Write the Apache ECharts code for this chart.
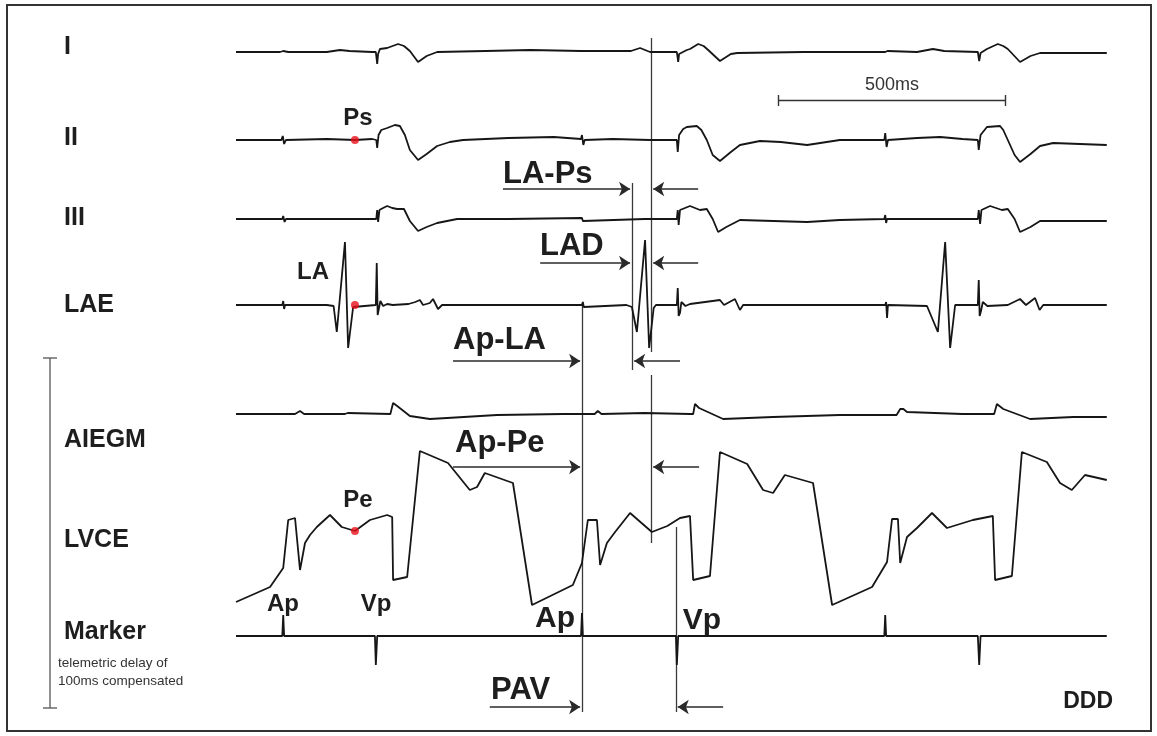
<!DOCTYPE html>
<html><head><meta charset="utf-8">
<script src="https://cdn.jsdelivr.net/npm/echarts@6/dist/echarts.min.js"></script>
<style>html,body{margin:0;padding:0;background:#fff}#c{width:1157px;height:736px}</style>
</head><body><div id="c"></div>
<script>
// ---- DATA: time in ms, amplitude in display units (positive = up) ----
const leadI = [[0,0],[97,0],[104,1],[108,-1],[115,0],[200,0],[229,2],[250,1],[300,0],[308,0],[311,-12],[313,-2],[317,3],[333,4],[357,8],[370,6],[383,1],[401,-10],[420,-4],[443,0],[550,1],[648,2],[760,1],[764,0],[870,1],[890,4],[912,0],[971,0],[974,-10],[976,-2],[993,2],[1000,3],[1018,8],[1030,6],[1040,2],[1066,-9],[1090,-2],[1104,-1],[1250,0],[1430,0],[1432,-2],[1435,1],[1500,0],[1535,3],[1560,1],[1634,0],[1637,-9],[1640,-1],[1654,3],[1678,8],[1690,6],[1700,3],[1727,-10],[1750,-4],[1771,-1],[1918,-1]];
const leadII = [[0,0],[100,0],[103,4],[106,-4],[110,0],[200,1],[262,0],[300,1],[309,0],[311,-8],[314,5],[320,10],[333,12],[350,15],[361,14],[372,5],[383,-10],[401,-20],[420,-14],[443,-6],[471,-2],[500,0],[600,2],[700,3],[760,1],[762,5],[765,-5],[768,0],[830,1],[912,0],[971,0],[973,-12],[976,5],[985,11],[993,13],[1015,14],[1025,10],[1037,0],[1050,-15],[1066,-21],[1090,-12],[1110,-5],[1154,-1],[1200,-2],[1258,-5],[1330,0],[1428,0],[1430,7],[1433,-7],[1436,0],[1500,2],[1551,3],[1600,1],[1634,0],[1636,-10],[1640,5],[1654,13],[1683,14],[1690,10],[1700,0],[1715,-15],[1727,-22],[1750,-14],[1771,-6],[1800,-3],[1918,-5]];
const leadIII = [[0,0],[102,0],[104,3],[107,-3],[110,0],[200,0],[309,0],[311,9],[313,-3],[316,9],[324,11],[333,13],[344,11],[355,10],[370,10],[383,-2],[401,-12],[420,-8],[443,-4],[487,0],[600,0],[762,1],[764,-2],[766,0],[900,0],[971,0],[973,9],[975,-6],[978,9],[1000,13],[1022,9],[1037,10],[1050,0],[1062,-13],[1080,-8],[1110,-1],[1258,-3],[1330,-1],[1428,0],[1430,4],[1432,-4],[1434,0],[1550,0],[1634,0],[1636,9],[1639,-5],[1642,9],[1661,13],[1687,9],[1700,10],[1715,0],[1727,-13],[1750,-8],[1771,-2],[1918,-2]];
const lae = [[0,0],[102,0],[104,4],[106,-4],[108,0],[200,0],[215,-1],[222,-27],[240,63],[247,-43],[258,-2],[262,0],[308,0],[310,42],[312,-10],[315,-8],[318,4],[324,-1],[333,1],[345,0],[380,1],[395,3],[405,5],[412,0],[427,2],[434,6],[445,-4],[454,0],[600,0],[762,0],[764,3],[766,-2],[768,0],[860,0],[872,-2],[883,-27],[901,65],[910,-43],[920,-3],[925,0],[971,0],[973,17],[975,-11],[978,-8],[981,3],[990,-1],[1000,1],[1066,5],[1075,0],[1099,6],[1110,-5],[1117,0],[1300,0],[1430,0],[1432,3],[1434,-13],[1436,0],[1522,-1],[1546,-27],[1562,63],[1573,-43],[1584,0],[1634,0],[1636,25],[1638,-11],[1641,-6],[1645,3],[1655,-1],[1700,0],[1727,6],[1740,0],[1760,7],[1770,-5],[1778,0],[1918,0]];
const aiegm = [[0,0],[130,0],[141,3],[150,0],[240,0],[246,1],[250,0],[340,0],[346,11],[355,8],[383,-2],[427,-5],[465,-4],[575,-1],[720,0],[790,0],[797,3],[805,0],[900,1],[1000,0],[1007,0],[1011,10],[1020,6],[1073,-5],[1183,-3],[1330,-1],[1455,-1],[1463,5],[1470,5],[1478,2],[1600,0],[1670,0],[1676,10],[1690,5],[1749,-5],[1844,-3],[1918,-3]];
const lvce = [[0,-82],[75,-67],[104,-48],[115,0],[130,2],[141,-50],[152,-23],[163,-15],[178,-7],[207,5],[233,-7],[262,-11],[295,0],[333,5],[344,3],[346,-60],[377,-57],[405,69],[467,57],[515,30],[531,33],[548,47],[610,37],[652,-85],[742,-65],[762,-43],[775,0],[795,0],[802,-45],[817,-23],[835,-12],[868,7],[916,-12],[950,-6],[978,2],[1000,4],[1007,-60],[1044,-56],[1066,68],[1126,56],[1161,30],[1183,27],[1209,45],[1271,37],[1313,-85],[1401,-67],[1434,-42],[1445,1],[1458,1],[1463,-43],[1478,-17],[1500,-8],[1533,7],[1566,-8],[1623,0],[1667,4],[1672,-60],[1709,-56],[1731,68],[1786,58],[1815,37],[1841,30],[1870,45],[1918,40]];
const marker = [[0,0],[102,0],[104,21],[106,0],[306,0],[308,-29],[311,0],[760,0],[762,23],[764,0],[969,0],[971,-29],[974,0],[1428,0],[1430,21],[1432,0],[1634,0],[1637,-29],[1640,0],[1918,0]];
const channelNames = ['I','II','III','LAE','AIEGM','LVCE','Marker'];
// event times (ms)
const eventTimes = {Ap:762, LA:872, Ps:914, Vp:969, dot:262};
const scaleBarMs = [1195, 1695];

// ---- LAYOUT ----
const PX_PER_MS = 0.454, ORIGIN_PX = 236;
const baselines = {I:52, II:140, III:219, LAE:305, AIEGM:414, LVCE:520, Marker:636};
const labelY = {I:47, II:138, III:218, LAE:305, AIEGM:440, LVCE:540, Marker:632};
const traces = {I:leadI, II:leadII, III:leadIII, LAE:lae, AIEGM:aiegm, LVCE:lvce, Marker:marker};
const FONT = '"Liberation Sans", Arial, sans-serif';
const INK = '#161616';

function toY(name, arr){ return arr.map(p => [p[0], baselines[name] - p[1]]); }
function interp(arr, t){
  for (let i=1;i<arr.length;i++){ if (arr[i][0] >= t){ const a=arr[i-1], b=arr[i]; return a[1] + (b[1]-a[1])*(t-a[0])/(b[0]-a[0]); } }
  return arr[arr.length-1][1];
}

const series = [];
channelNames.forEach(n => {
  series.push({type:'line', data: toY(n, traces[n]), showSymbol:false, symbol:'none',
    lineStyle:{color:INK, width:1.8}, silent:true, animation:false, z:3});
});

// vertical reference lines
const vlines = [
  [eventTimes.Ap, 304, 712],
  [eventTimes.LA, 183, 370],
  [eventTimes.Ps, 38, 352],
  [eventTimes.Ps, 375, 543],
  [eventTimes.Vp, 527, 712]
];
series.push({type:'lines', coordinateSystem:'cartesian2d', silent:true, animation:false, z:2,
  lineStyle:{color:'#3a3a3a', width:1.3, opacity:1},
  data: vlines.map(v => ({coords:[[v[0],v[1]],[v[0],v[2]]]}))});

// interval arrows: [fromT, toT, y]
const arrows = [
  [588, eventTimes.LA-4, 189], [1018, eventTimes.Ps+5, 189],
  [670, eventTimes.LA-4, 263], [1018, eventTimes.Ps+5, 263],
  [478, eventTimes.Ap-4, 361], [978, eventTimes.LA+5, 361],
  [478, eventTimes.Ap-4, 467], [1020, eventTimes.Ps+5, 467],
  [559, eventTimes.Ap-4, 707], [1073, eventTimes.Vp+4, 707]
];
series.push({type:'lines', coordinateSystem:'cartesian2d', silent:true, animation:false, z:4,
  symbol:['none','arrow'], symbolSize:[1,11],
  lineStyle:{color:'#2a2a2a', width:1.5, opacity:1},
  data: arrows.map(a => ({coords:[[a[0],a[2]],[a[1],a[2]]]}))});

// scale bar
series.push({type:'lines', coordinateSystem:'cartesian2d', silent:true, animation:false,
  lineStyle:{color:'#333', width:1.4, opacity:1},
  data:[{coords:[[scaleBarMs[0],100],[scaleBarMs[1],100]]},{coords:[[scaleBarMs[0],95],[scaleBarMs[0],106]]},{coords:[[scaleBarMs[1],95],[scaleBarMs[1],106]]}]});

// red dots
series.push({type:'scatter', symbolSize:8, itemStyle:{color:'#e8101a'}, z:5, silent:true, animation:false,
  data: ['II','LAE','LVCE'].map(n => [eventTimes.dot, baselines[n] - interp(traces[n], eventTimes.dot)])});

// ---- texts ----
function txt(text, x, y, size, bold, align, color){
  return {type:'text', x:x, y:y, z:10, style:{text:text, font:(bold?'bold ':'')+size+'px '+FONT,
    fill:color||'#1e1e1e', textAlign:align||'left', align:align||'left', textVerticalAlign:'middle', verticalAlign:'middle'}};
}
function tx(t){ return ORIGIN_PX + t*PX_PER_MS; }
const graphics = [
  {type:'rect', shape:{x:7,y:5,width:1144,height:726}, style:{fill:'none', stroke:'#333', lineWidth:2}, z:0},
  {type:'polyline', shape:{points:[[50,358],[50,708]]}, style:{stroke:'#555', lineWidth:1.3, fill:'none'}},
  {type:'polyline', shape:{points:[[43,358],[57,358]]}, style:{stroke:'#555', lineWidth:1.3, fill:'none'}},
  {type:'polyline', shape:{points:[[43,708],[57,708]]}, style:{stroke:'#555', lineWidth:1.3, fill:'none'}},
  txt('telemetric delay of', 58, 663, 13.5, false, 'left', '#333'),
  txt('100ms compensated', 58, 681, 13.5, false, 'left', '#333'),
  txt('500ms', tx((scaleBarMs[0]+scaleBarMs[1])/2), 85, 18, false, 'center', '#333'),
  txt('Ps', 358, 118, 24, true, 'center'),
  txt('LA', 313, 272, 24, true, 'center'),
  txt('Pe', 358, 500, 24, true, 'center'),
  txt('Ap', 283, 604, 24, true, 'center'),
  txt('Vp', 376, 604, 24, true, 'center'),
  txt('LA-Ps', 503, 174, 31, true, 'left'),
  txt('LAD', 540, 246, 31, true, 'left'),
  txt('Ap-LA', 453, 340, 31, true, 'left'),
  txt('Ap-Pe', 455, 443, 31, true, 'left'),
  txt('Ap', 555, 619, 30, true, 'center'),
  txt('Vp', 702, 621, 30, true, 'center'),
  txt('PAV', 491, 690, 31, true, 'left'),
  txt('DDD', 1113, 702, 23, true, 'right')
];
channelNames.forEach(n => graphics.push(txt(n, 64, labelY[n], 25, true, 'left')));

const chart = echarts.init(document.getElementById('c'), null, {renderer:'canvas'});
chart.setOption({
  animation:false,
  backgroundColor:'#fff',
  grid:{left:0, right:0, top:0, bottom:0},
  xAxis:{type:'value', min:-ORIGIN_PX/PX_PER_MS, max:(1157-ORIGIN_PX)/PX_PER_MS, show:false},
  yAxis:{type:'value', min:0, max:736, inverse:true, show:false},
  series: series,
  graphic: graphics
});
</script></body></html>
